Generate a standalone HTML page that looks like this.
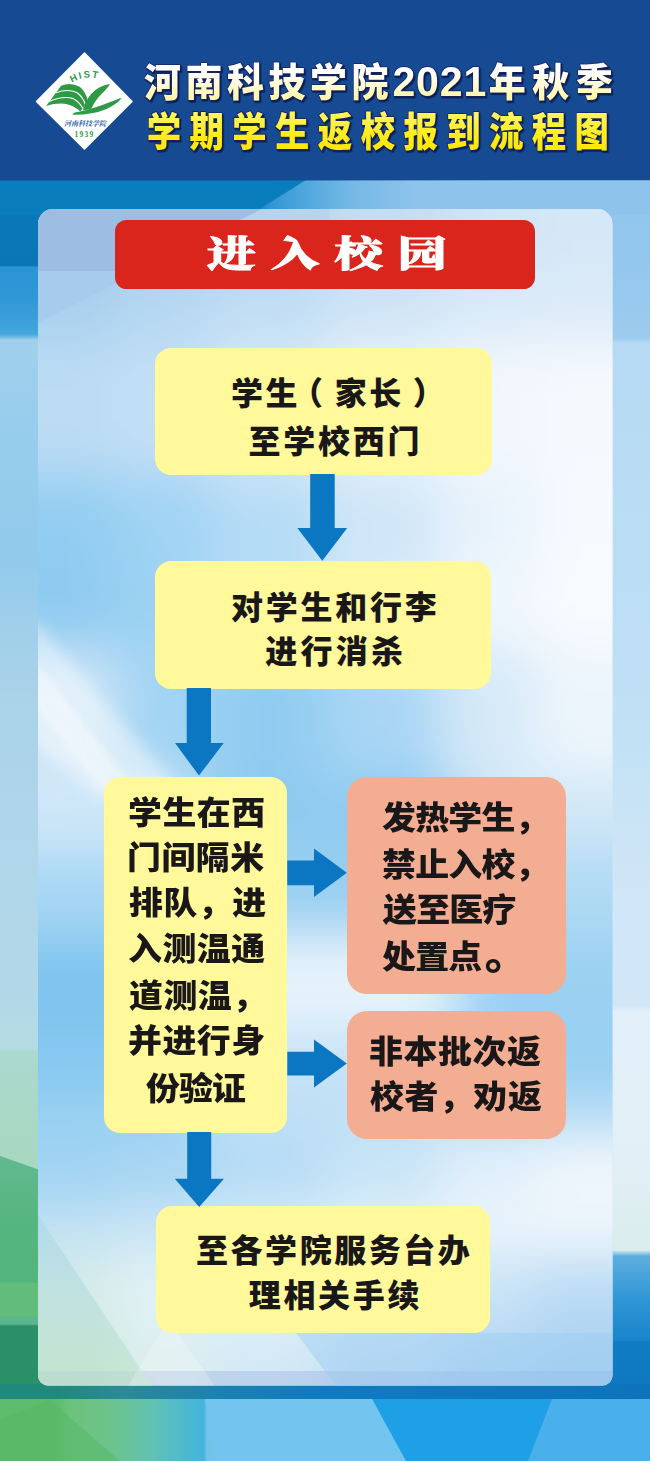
<!DOCTYPE html>
<html lang="zh-CN"><head><meta charset="utf-8"><title>河南科技学院2021年秋季学期学生返校报到流程图</title>
<style>
html,body{margin:0;padding:0}
body{width:650px;height:1461px;position:relative;overflow:hidden;background:#8ec4ec;font-family:"Liberation Sans","Noto Sans CJK SC",sans-serif}
.abs{position:absolute}
.red{position:absolute;left:114.6px;top:219.8px;width:420.8px;height:69.4px;border-radius:11.5px;background:#d9251c;color:#fff;text-align:center;font-family:"Liberation Serif","Noto Serif CJK SC",serif;font-weight:900;font-size:36px;line-height:71px;letter-spacing:10.8px;text-indent:8px;-webkit-text-stroke:0.8px #fff}
.red span{display:inline-block;transform:scaleX(1.36);transform-origin:50% 50%}
.bx{position:absolute}
.ln{position:absolute;white-space:nowrap;color:#1a1718;font-weight:900;font-size:32px;line-height:40px;transform-origin:0 50%}
.ln i{font-style:normal;position:relative}
.ln i.pl{left:-9px}
.ln i.pr{left:9px}
.ln i.pd{left:3px;top:1px;font-size:41px;line-height:30px}
.y{background:#fff99c;border-radius:16px}
.s{background:#f2ad92;border-radius:20px}
</style></head><body>
<svg width="650" height="1461" viewBox="0 0 650 1461" style="position:absolute;left:0;top:0">
<defs>
<linearGradient id="gl" x1="0" y1="180" x2="0" y2="1461" gradientUnits="userSpaceOnUse"><stop offset="0.0000" stop-color="#0a79ba"/><stop offset="0.0667" stop-color="#0a76b6"/><stop offset="0.0679" stop-color="#2a94d4"/><stop offset="0.0937" stop-color="#2f98d6"/><stop offset="0.1202" stop-color="#44a5dd"/><stop offset="0.1249" stop-color="#a0d0ec"/><stop offset="0.1874" stop-color="#98cdec"/><stop offset="0.2966" stop-color="#92caec"/><stop offset="0.3591" stop-color="#a2d0ea"/><stop offset="0.4059" stop-color="#aad2e8"/><stop offset="0.4840" stop-color="#aed5ea"/><stop offset="0.6401" stop-color="#b2d8e8"/><stop offset="0.6776" stop-color="#b5dce4"/><stop offset="0.6807" stop-color="#aad9ce"/><stop offset="0.7572" stop-color="#a8d8c2"/><stop offset="0.7596" stop-color="#62ba90"/><stop offset="0.8119" stop-color="#56b680"/><stop offset="0.8603" stop-color="#52b47c"/><stop offset="0.8618" stop-color="#62bd7c"/><stop offset="0.8860" stop-color="#62bd7c"/><stop offset="0.8884" stop-color="#5ab68c"/><stop offset="0.8931" stop-color="#5ab68c"/><stop offset="0.8946" stop-color="#2a9068"/><stop offset="0.9415" stop-color="#2a9068"/><stop offset="0.9430" stop-color="#1f8a7c"/><stop offset="0.9500" stop-color="#1f8a7c"/><stop offset="0.9516" stop-color="#5cbb6c"/><stop offset="1.0000" stop-color="#60bd68"/></linearGradient>
<linearGradient id="gr" x1="0" y1="177" x2="0" y2="1461" gradientUnits="userSpaceOnUse"><stop offset="0.0000" stop-color="#8ec4ec"/><stop offset="0.0958" stop-color="#98c9ee"/><stop offset="0.1254" stop-color="#9ccbee"/><stop offset="0.1293" stop-color="#b6daf4"/><stop offset="0.4073" stop-color="#bfe0f5"/><stop offset="0.5631" stop-color="#d1e6f6"/><stop offset="0.6449" stop-color="#d1e6f6"/><stop offset="0.6503" stop-color="#e3f0fa"/><stop offset="0.7578" stop-color="#e1eff6"/><stop offset="0.8357" stop-color="#dbedee"/><stop offset="0.8403" stop-color="#5daee0"/><stop offset="0.8746" stop-color="#2f96d5"/><stop offset="0.9058" stop-color="#1a85cc"/><stop offset="0.9073" stop-color="#0f7cc4"/><stop offset="0.9447" stop-color="#0f78c0"/><stop offset="0.9502" stop-color="#0c72ba"/><stop offset="0.9525" stop-color="#2fa5e5"/><stop offset="1.0000" stop-color="#35a8e8"/></linearGradient>
<linearGradient id="gt" x1="0" y1="0" x2="650" y2="0" gradientUnits="userSpaceOnUse"><stop offset="0.0000" stop-color="#0a7dbd"/><stop offset="0.3923" stop-color="#0a7dbd"/><stop offset="0.4123" stop-color="#2f94d2"/><stop offset="0.4615" stop-color="#4aa5dc"/><stop offset="0.5385" stop-color="#74b9e6"/><stop offset="0.6462" stop-color="#8ec4ec"/><stop offset="1.0000" stop-color="#8ec4ec"/></linearGradient>
<linearGradient id="gb" x1="0" y1="0" x2="650" y2="0" gradientUnits="userSpaceOnUse"><stop offset="0.0000" stop-color="#5cbb6c"/><stop offset="0.0846" stop-color="#5cbb6c"/><stop offset="0.1077" stop-color="#6cc27c"/><stop offset="0.1692" stop-color="#6cc48c"/><stop offset="0.2308" stop-color="#62c2b0"/><stop offset="0.2923" stop-color="#4ab8d2"/><stop offset="0.3138" stop-color="#45b4de"/><stop offset="0.3185" stop-color="#74c4ea"/><stop offset="0.5723" stop-color="#72c2f0"/><stop offset="0.5846" stop-color="#1f9fe5"/><stop offset="0.8385" stop-color="#1f9fe5"/><stop offset="0.8538" stop-color="#45aeea"/><stop offset="1.0000" stop-color="#48afea"/></linearGradient>
<linearGradient id="gband" x1="0" y1="0" x2="650" y2="0" gradientUnits="userSpaceOnUse"><stop offset="0.0000" stop-color="#1f8a7c"/><stop offset="0.0923" stop-color="#1f8a7c"/><stop offset="0.1846" stop-color="#2a8a96"/><stop offset="0.3385" stop-color="#1a82b0"/><stop offset="0.5000" stop-color="#0f7ac2"/><stop offset="1.0000" stop-color="#0d74bc"/></linearGradient>
<linearGradient id="gtri" x1="0" y1="1215" x2="0" y2="1386" gradientUnits="userSpaceOnUse"><stop offset="0" stop-color="#a8d6e8"/><stop offset="0.55" stop-color="#b5dcd8"/><stop offset="1" stop-color="#bfe3c8"/></linearGradient>
<filter id="blur" x="-10%" y="-10%" width="120%" height="120%"><feGaussianBlur stdDeviation="26"/></filter>
<filter id="b3"><feGaussianBlur stdDeviation="3"/></filter>
<filter id="b6" x="-30%" y="-30%" width="160%" height="160%"><feGaussianBlur stdDeviation="7"/></filter>
<clipPath id="pc"><path d="M53,209 H597.5 A15,15 0 0 1 612.5,224 V1375.5 A10,10 0 0 1 602.5,1385.5 H48 A10,10 0 0 1 38,1375.5 V224 A15,15 0 0 1 53,209 Z"/></clipPath>
</defs>
<rect x="0" y="0" width="650" height="1461" fill="#8ec4ec"/>
<!-- side strips -->
<rect x="0" y="170" width="60" height="1300" fill="url(#gl)"/>
<rect x="590" y="170" width="60" height="1300" fill="url(#gr)"/>
<!-- top strip -->
<rect x="0" y="170" width="650" height="45" fill="url(#gt)"/>
<polygon points="0,170 322,170 250,215 0,215" fill="#0a7dbd"/>
<!-- left strip diagonal boundary between mid-blue and light -->
<!-- green polygon edge on left -->
<polygon points="0,1150 0,1156 40,1170 40,1150" fill="#a8d8c2"/>
<!-- bottom -->
<rect x="0" y="1384" width="650" height="15.5" fill="url(#gband)"/>
<rect x="0" y="1399" width="650" height="70" fill="url(#gb)"/>
<polygon points="0,1420 50,1400 120,1461 0,1461" fill="#58b868" opacity="0.55"/>
<polygon points="372,1399 552,1399 528,1461 406,1461" fill="#1f9fe5"/>
<polygon points="552,1399 650,1399 650,1461 528,1461" fill="#4ab0eb"/>
<polygon points="205,1399 372,1399 406,1461 215,1461" fill="#74c4f0"/>
<!-- header -->
<polygon points="0,0 650,0 650,180.2 0,180.6" fill="#164b93"/>
<!-- panel -->
<g clip-path="url(#pc)">
<rect x="38" y="209" width="575" height="1177" fill="#cfe4f6"/>
<g filter="url(#blur)">
<rect x="-42" y="129" width="158" height="140" fill="#9dbde2"/>
<rect x="115" y="129" width="96" height="140" fill="#a8c8e8"/>
<rect x="210" y="129" width="116" height="140" fill="#b8d4ee"/>
<rect x="325" y="129" width="116" height="140" fill="#c5ddf2"/>
<rect x="440" y="129" width="96" height="140" fill="#cfe4f6"/>
<rect x="535" y="129" width="158" height="140" fill="#d5e8f8"/>
<rect x="-42" y="268" width="158" height="75" fill="#a8d0ef"/>
<rect x="115" y="268" width="96" height="75" fill="#b5d8f2"/>
<rect x="210" y="268" width="116" height="75" fill="#c0ddf4"/>
<rect x="325" y="268" width="116" height="75" fill="#cde4f6"/>
<rect x="440" y="268" width="96" height="75" fill="#d8e9f8"/>
<rect x="535" y="268" width="158" height="75" fill="#dceaf8"/>
<rect x="-42" y="342" width="158" height="134" fill="#bcdcf4"/>
<rect x="115" y="342" width="96" height="134" fill="#c2dff5"/>
<rect x="210" y="342" width="116" height="134" fill="#d4e8f8"/>
<rect x="325" y="342" width="116" height="134" fill="#e8f2fb"/>
<rect x="440" y="342" width="96" height="134" fill="#f2f7fd"/>
<rect x="535" y="342" width="158" height="134" fill="#f5f9fe"/>
<rect x="-42" y="475" width="158" height="86" fill="#92cdf2"/>
<rect x="115" y="475" width="96" height="86" fill="#a0d3f4"/>
<rect x="210" y="475" width="116" height="86" fill="#b5dcf6"/>
<rect x="325" y="475" width="116" height="86" fill="#cfe6f8"/>
<rect x="440" y="475" width="96" height="86" fill="#e8f3fc"/>
<rect x="535" y="475" width="158" height="86" fill="#f5faff"/>
<rect x="-42" y="560" width="158" height="91" fill="#8ecbf1"/>
<rect x="115" y="560" width="96" height="91" fill="#9dd2f3"/>
<rect x="210" y="560" width="116" height="91" fill="#b5dcf6"/>
<rect x="325" y="560" width="116" height="91" fill="#d5e9f9"/>
<rect x="440" y="560" width="96" height="91" fill="#eef6fd"/>
<rect x="535" y="560" width="158" height="91" fill="#f7fbfe"/>
<rect x="-42" y="650" width="158" height="128" fill="#d0e7f8"/>
<rect x="115" y="650" width="96" height="128" fill="#a2d4f3"/>
<rect x="210" y="650" width="116" height="128" fill="#90ccf1"/>
<rect x="325" y="650" width="116" height="128" fill="#a8d6f4"/>
<rect x="440" y="650" width="96" height="128" fill="#d5e9f8"/>
<rect x="535" y="650" width="158" height="128" fill="#ecf5fc"/>
<rect x="-42" y="777" width="238" height="74" fill="#cfe7f8"/>
<rect x="195" y="777" width="262" height="74" fill="#8ecbf0"/>
<rect x="456" y="777" width="237" height="74" fill="#cfe6f7"/>
<rect x="-42" y="850" width="238" height="86" fill="#a8d7f4"/>
<rect x="195" y="850" width="262" height="86" fill="#98cff1"/>
<rect x="456" y="850" width="237" height="86" fill="#b0daf4"/>
<rect x="-42" y="935" width="238" height="96" fill="#7fc5ef"/>
<rect x="195" y="935" width="262" height="96" fill="#e6f3fc"/>
<rect x="456" y="935" width="237" height="96" fill="#9bd0f2"/>
<rect x="-42" y="1030" width="238" height="61" fill="#86c8f0"/>
<rect x="195" y="1030" width="262" height="61" fill="#c4e2f7"/>
<rect x="456" y="1030" width="237" height="61" fill="#98cff2"/>
<rect x="-42" y="1090" width="238" height="46" fill="#98d0f2"/>
<rect x="195" y="1090" width="262" height="46" fill="#c0e0f6"/>
<rect x="456" y="1090" width="237" height="46" fill="#b0daf4"/>
<rect x="-42" y="1135" width="158" height="71" fill="#a0d3f2"/>
<rect x="115" y="1135" width="96" height="71" fill="#a8d6f3"/>
<rect x="210" y="1135" width="116" height="71" fill="#b5dcf5"/>
<rect x="325" y="1135" width="116" height="71" fill="#c8e4f7"/>
<rect x="440" y="1135" width="96" height="71" fill="#e2f0fb"/>
<rect x="535" y="1135" width="158" height="71" fill="#eef6fc"/>
<rect x="-42" y="1205" width="158" height="54" fill="#c4e3f4"/>
<rect x="115" y="1205" width="96" height="54" fill="#cce6f6"/>
<rect x="210" y="1205" width="116" height="54" fill="#d8ecf8"/>
<rect x="325" y="1205" width="116" height="54" fill="#e2f1fa"/>
<rect x="440" y="1205" width="96" height="54" fill="#eaf4fc"/>
<rect x="535" y="1205" width="158" height="54" fill="#ecf5fc"/>
<rect x="-42" y="1258" width="158" height="76" fill="#d4ebe6"/>
<rect x="115" y="1258" width="96" height="76" fill="#e2f2f6"/>
<rect x="210" y="1258" width="116" height="76" fill="#e2f1f9"/>
<rect x="325" y="1258" width="116" height="76" fill="#d8ebf8"/>
<rect x="440" y="1258" width="96" height="76" fill="#c8e2f6"/>
<rect x="535" y="1258" width="158" height="76" fill="#b8daf4"/>
<rect x="-42" y="1333" width="158" height="133" fill="#cde8d6"/>
<rect x="115" y="1333" width="96" height="133" fill="#dbeeee"/>
<rect x="210" y="1333" width="116" height="133" fill="#d2e8f6"/>
<rect x="325" y="1333" width="116" height="133" fill="#c0ddf5"/>
<rect x="440" y="1333" width="96" height="133" fill="#b0d5f2"/>
<rect x="535" y="1333" width="158" height="133" fill="#a8d0f0"/>
</g>
<!-- top-left periwinkle band and ray -->
<polygon points="38,209 262,209 140,271 38,271" fill="#9dbde2"/>
<polygon points="38,271 140,271 38,323" fill="#a6cbec"/>
<polygon points="262,209 330,209 330,222 236,222" fill="#b4d3ee" opacity="0.8"/>
<!-- white ray lower-left -->
<polygon points="30,615 180,790 100,800 30,740" fill="#ffffff" opacity="0.42" filter="url(#b6)"/>
<polygon points="30,655 140,795 110,800 30,700" fill="#ffffff" opacity="0.35" filter="url(#b3)"/>
<!-- bottom bevel -->
<rect x="38" y="1371" width="575" height="15" fill="#8fa8dc" opacity="0.33"/>
<polygon points="296,1333 336,1386 612,1386 612,1333" fill="#9ccdf2" opacity="0.45"/>
<!-- bottom-left triangle facets -->
<polygon points="38,1215 38,1386 152,1386" fill="url(#gtri)" opacity="0.6"/>
<polygon points="128,1386 168,1320 215,1386" fill="#ffffff" opacity="0.22"/>
</g>
</svg>
<svg class="abs" style="left:0;top:0" width="650" height="180" viewBox="0 0 650 180">
<defs>
<linearGradient id="tg1" x1="0" y1="0" x2="0" y2="1"><stop offset="0.3" stop-color="#ffffff"/><stop offset="0.95" stop-color="#fff59a"/></linearGradient>
<linearGradient id="tg2" x1="0" y1="0" x2="0" y2="1"><stop offset="0" stop-color="#fff66a"/><stop offset="0.55" stop-color="#ffec1c"/><stop offset="1" stop-color="#ffe600"/></linearGradient>
<filter id="tsh" x="-5%" y="-20%" width="110%" height="150%"><feDropShadow dx="1.3" dy="1.7" stdDeviation="0.3" flood-color="#111c52" flood-opacity="1"/></filter>
</defs>
<g font-family="Liberation Sans,Noto Sans CJK SC,sans-serif" font-weight="900" font-size="37" stroke="#17245f" stroke-width="1.6" stroke-linejoin="round" paint-order="stroke" filter="url(#tsh)">
<text transform="translate(144,96.2) scale(1.0,1.045)" letter-spacing="4.5" fill="url(#tg1)">河南科技学院<tspan font-size="41" letter-spacing="0.9" dx="-0.5">2021</tspan><tspan dx="1.5" letter-spacing="6.6">年秋季</tspan></text>
<text transform="translate(146.8,146.2) scale(0.93,1.089)" letter-spacing="9.0" fill="url(#tg2)">学期学生返校报到流程图</text>
</g>
</svg>
<svg class="abs" style="left:30px;top:45px" width="110" height="115" viewBox="0 0 110 115">
<polygon points="54.5,8 102,56.5 54.5,104 6.5,56.5" fill="#fff" stroke="#fff" stroke-width="1.5" stroke-linejoin="round"/>
<g transform="scale(0.16155)" fill="#2f9a46">
<path d="M100,378 L192,252 Q250,228 308,258 Q348,292 358,346 L312,412 Q272,374 215,364 Q160,358 100,378Z"/>
<path d="M160,296 Q235,268 292,296 Q328,322 342,368" fill="none" stroke="#fff" stroke-width="7"/>
<path d="M118,350 Q205,312 268,332 Q305,350 326,392" fill="none" stroke="#fff" stroke-width="7"/>
<path d="M326,404 Q352,318 405,278 Q448,248 494,242 Q482,268 446,300 Q404,340 378,398Z"/>
<path d="M272,420 Q382,398 472,362 Q532,338 568,326 Q544,362 474,396 Q384,434 262,432Z"/>
</g>
<path id="arc" d="M40.5,38.5 Q57,27.5 76,36.5" fill="none"/>
<text font-family="Liberation Sans,sans-serif" font-weight="700" font-size="9.5" fill="#2f9a46" letter-spacing="1.7"><textPath href="#arc" startOffset="1.5">HIST</textPath></text>
<text x="55" y="80.5" text-anchor="middle" font-family="Liberation Serif,Noto Serif CJK SC,serif" font-style="italic" font-weight="700" font-size="7" fill="#2a5ca8">河南科技学院</text>
<text x="54.5" y="91.5" text-anchor="middle" font-family="Liberation Serif,serif" font-weight="700" font-size="7.5" fill="#2f9a46" letter-spacing="1.3">1939</text>
</svg>
<div class="red"><span>进入校园</span></div>

<div class="bx y" style="left:155.4px;top:347.5px;width:336.4px;height:127.7px"></div>
<div class="bx y" style="left:155.2px;top:561.4px;width:336.3px;height:127.4px"></div>
<div class="bx y" style="left:103.6px;top:777px;width:183.8px;height:356.3px"></div>
<div class="bx s" style="left:346.6px;top:777.2px;width:219.2px;height:217px"></div>
<div class="bx s" style="left:346.6px;top:1011px;width:219.2px;height:128.2px"></div>
<div class="bx y" style="left:155.8px;top:1205.6px;width:334.4px;height:127.4px"></div>
<div class="ln" id="b1l1" style="left:231.10px;top:374.00px;letter-spacing:2.50px;transform:scaleX(1.0)">学生<i class='pl'>（</i>家长<i class='pr'>）</i></div>
<div class="ln" id="b1l2" style="left:248.50px;top:421.80px;letter-spacing:2.73px;transform:scaleX(1.0)">至学校西门</div>
<div class="ln" id="b2l1" style="left:231.10px;top:588.20px;letter-spacing:2.75px;transform:scaleX(1.0)">对学生和行李</div>
<div class="ln" id="b2l2" style="left:265.30px;top:632.20px;letter-spacing:3.20px;transform:scaleX(1.0)">进行消杀</div>
<div class="ln" id="b3l1" style="left:128.20px;top:792.80px;letter-spacing:0.46px;transform:scaleX(1.06)">学生在西</div>
<div class="ln" id="b3l2" style="left:127.20px;top:838.20px;letter-spacing:0.46px;transform:scaleX(1.06)">门间隔米</div>
<div class="ln" id="b3l3" style="left:129.20px;top:883.00px;letter-spacing:0.46px;transform:scaleX(1.06)">排队，进</div>
<div class="ln" id="b3l4" style="left:128.20px;top:928.70px;letter-spacing:0.46px;transform:scaleX(1.06)">入测温通</div>
<div class="ln" id="b3l5" style="left:129.20px;top:976.00px;letter-spacing:0.46px;transform:scaleX(1.06)">道测温，</div>
<div class="ln" id="b3l6" style="left:128.20px;top:1021.00px;letter-spacing:0.46px;transform:scaleX(1.06)">并进行身</div>
<div class="ln" id="b3l7" style="left:146.30px;top:1068.70px;letter-spacing:-0.90px;transform:scaleX(1.06)">份验证</div>
<div class="ln" id="s1l1" style="left:382.00px;top:797.70px;letter-spacing:-0.70px;transform:scaleX(1.06)">发热学生，</div>
<div class="ln" id="s1l2" style="left:382.00px;top:844.50px;letter-spacing:-0.70px;transform:scaleX(1.06)">禁止入校，</div>
<div class="ln" id="s1l3" style="left:383.00px;top:890.00px;letter-spacing:-0.70px;transform:scaleX(1.06)">送至医疗</div>
<div class="ln" id="s1l4" style="left:382.00px;top:937.20px;letter-spacing:-0.70px;transform:scaleX(1.06)">处置点<i class='pd'>。</i></div>
<div class="ln" id="s2l1" style="left:369.30px;top:1032.00px;letter-spacing:0.55px;transform:scaleX(1.06)">非本批次返</div>
<div class="ln" id="s2l2" style="left:370.30px;top:1077.30px;letter-spacing:0.55px;transform:scaleX(1.06)">校者，劝返</div>
<div class="ln" id="b4l1" style="left:196.00px;top:1231.00px;letter-spacing:2.55px;transform:scaleX(1.0)">至各学院服务台办</div>
<div class="ln" id="b4l2" style="left:248.80px;top:1276.30px;letter-spacing:2.65px;transform:scaleX(1.0)">理相关手续</div>
<svg class="abs" style="left:0;top:0;pointer-events:none" width="650" height="1461" viewBox="0 0 650 1461">
<g fill="#0b76c2">
<polygon points="310.2,474 334.7,474 334.7,528 347.2,528 322.3,560.8 297.3,528 310.2,528"/>
<polygon points="186.7,688 211,688 211,743 223.7,743 199,775.6 175,743 186.7,743"/>
<polygon points="187.2,1132 211.2,1132 211.2,1178.8 224,1178.8 199.2,1207 174.8,1178.8 187.2,1178.8"/>
<polygon points="287.3,860.6 314,860.6 314,848.5 346.8,872.8 314,897 314,885.2 287.3,885.2"/>
<polygon points="287.3,1051.8 314,1051.8 314,1039.5 346.8,1063.5 314,1087.5 314,1075.4 287.3,1075.4"/>
</g>
</svg>
</body></html>
